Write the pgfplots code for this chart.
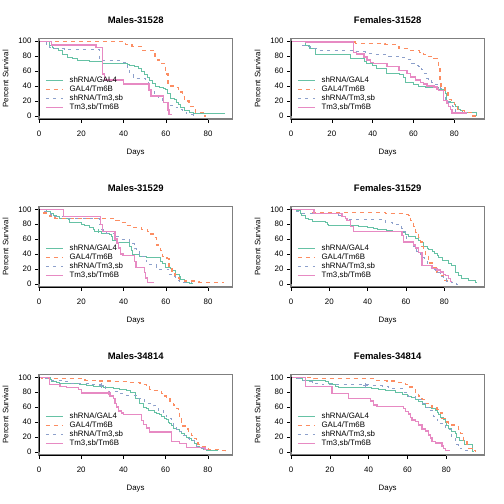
\documentclass[border=0pt]{standalone}
\usepackage{fontspec}
\setmainfont{Liberation Sans}
\usepackage{pgfplots}
\pgfplotsset{compat=1.18}
\definecolor{cG}{HTML}{66C2A5}
\definecolor{cO}{HTML}{FC8D62}
\definecolor{cB}{HTML}{8DA0CB}
\definecolor{cP}{HTML}{E78AC3}
\definecolor{boxgray}{HTML}{7F7F7F}
\pgfplotsset{
 panel/.style={
  scale only axis, width=193.3bp, height=80.7bp, anchor=south west,
  xmin=0, ymin=-4, ymax=104,
  axis line style={draw=boxgray, line width=1.5bp},
  clip=false, const plot,
  xtick={0,20,40,60,80}, ytick={0,20,40,60,80,100},
  xtick pos=left, ytick pos=left,
  tick align=outside, major tick length=4bp,
  tick style={black, line width=0.5bp},
  /pgf/number format/assume math mode=true,
  ticklabel style={font=\fontsize{7.92}{9}\selectfont},
  xticklabel style={yshift=-4.5bp},
  label style={font=\fontsize{7.92}{9}\selectfont},
  xlabel={Days}, ylabel={Percent Survival},
  xlabel style={at={(axis description cs:0.5,-0.42)}, anchor=center},
  ylabel style={at={(axis description cs:-0.173,0.5)}, anchor=center},
  title style={at={(axis description cs:0.5,1)}, anchor=south, yshift=5.4bp, font=\bfseries\fontsize{9.5}{11}\selectfont},
  legend style={draw=none, fill=none, at={(axis description cs:0,1)}, anchor=north west, xshift=6bp, yshift=-38bp, font=\fontsize{7.92}{9}\selectfont, inner sep=0pt, row sep=1.3bp, column sep=6bp, nodes={inner sep=0pt, text height=6bp, text depth=1.7bp}},
  legend cell align=left,
  legend image code/.code={\draw[#1] (0bp,0bp) -- (17bp,0bp);},
 },
}
\newcommand{\axlines}{\draw[black, line width=0.6bp] (axis cs:0,-4) -- (axis cs:80,-4); \draw[black, line width=0.6bp] (axis cs:0,0) -- (axis cs:0,100);}
\newcommand{\leg}{\legend{shRNA/GAL4,GAL4/Tm6B,{shRNA/Tm3,sb},{Tm3,sb/Tm6B}}}
\begin{document}
\begin{tikzpicture}
\path[use as bounding box] (0,0) rectangle (504bp,504bp);

% ---------------- Males-31528
\begin{axis}[panel, at={(39bp,385bp)}, xmax=91.5, title={Males-31528}]
\addplot[draw=cG, line width=0.9bp] coordinates {(0,100)(5,95)(6.5,92)(7,90)(9,88)(11,83)(13.5,79)(16,77)(18,74)(24,73)(30,70)(42,69)(43,67)(45,66)(47,63)(48.5,60)(50,55)(51.5,52)(52.5,48)(53.5,44)(55,40)(57,38)(59,37)(60,35)(61,30)(62,24)(64,22)(65,18)(66,15)(67,11)(69,8)(71,5)(73,3)(88,3)};
\addplot[draw=cO, line width=1.4bp, dash pattern=on 4bp off 4bp] coordinates {(0,100)(41,96)(44,93)(49,88)(55,80)(56,75)(58,70)(60,56)(61,40)(64,38)(66,32)(68,26)(69,20)(71,13)(73,9)(74,5)(78,0)(79,0)};
\addplot[draw=cB, line width=0.9bp, dash pattern=on 3bp off 4.5bp] coordinates {(0,100)(3.5,96)(5,92)(7,90)(12,89)(28.7,74)(40,72)(42,62)(43,55)(44.5,50)(50.5,45)(52,35)(54.5,28)(56.5,25)(58.5,18)(61.5,14)(63.5,12)(65.5,9)(68,5)(70,2)(73,0)};
\addplot[draw=cP, line width=1.4bp] coordinates {(0,100)(6,95)(27,92)(30,56)(31,48)(40,43)(52,35)(53,27)(59,18)(61,8)(61.5,2)(63,2)};
\leg
\axlines
\end{axis}

% ---------------- Females-31528
\begin{axis}[panel, at={(291bp,385bp)}, xmax=94.7, title={Females-31528}]
\addplot[draw=cG, line width=0.9bp] coordinates {(0,100)(7,95)(9,90)(12,83)(29,77)(36,73)(37,70)(40,68)(42,64)(47,57)(53,55)(55,51)(56,45)(60,42)(62.5,40)(66,38)(72,36)(75,35)(75.5,30)(76.4,20)(78,18)(80,16)(80.5,13)(82,9)(83,7)(84,5)(90.5,5)(91,0)};
\addplot[draw=cO, line width=1.4bp, dash pattern=on 4bp off 4bp] coordinates {(0,100)(8,99)(31.5,97)(46,96)(51,93)(53,90)(58,88)(63,85)(65,82)(66.5,80)(70,77)(71.5,73)(72.3,63)(73,45)(73.5,40)(75.5,32)(77,22)(78.5,19)(80,15)(81,12)(81.5,9)(82,7)(85,5)(88.7,0)(90.8,0)};
\addplot[draw=cB, line width=0.9bp, dash pattern=on 3bp off 4.5bp] coordinates {(0,100)(5.4,95)(8.6,93)(9.4,91)(10,90)(13.5,88)(30.7,86)(36.5,84)(40.5,83)(47.8,80)(53,78)(56.8,76)(58.4,73)(59.2,71)(61,68)(62.5,66)(64,62)(65,57)(66.6,50)(67.5,47)(69,45)(70.6,42)(72.3,40)(73,37)(74,33)(74.8,27)(75.6,22)(77.2,18)(78.9,13)(79.7,9)(80.5,5)(86,3)};
\addplot[draw=cP, line width=1.4bp] coordinates {(0,100)(7,99)(30.7,85)(32,83)(35.8,79)(37.2,75)(39,72)(40.5,70)(47,66)(53,61)(56.8,57)(58.4,52)(61,48)(63.3,45)(65,43)(66.6,40)(70,39)(71.5,36)(72.3,34)(74.8,21)(76.4,17)(77.2,13)(78,9)(78.9,4)(86,4)};
\leg
\axlines
\end{axis}

% ---------------- Males-31529
\begin{axis}[panel, at={(39bp,217bp)}, xmax=91.5, title={Males-31529}]
\addplot[draw=cG, line width=0.9bp] coordinates {(0,100)(3.6,97)(5.2,95)(6.7,92)(8.3,90)(9.9,88)(13.8,86)(14.6,82)(20,80)(21.6,78)(24,76)(25.6,73)(26.4,70)(29.5,68)(33.4,66)(34.2,63)(35,58)(37.3,55)(42.8,50)(43.6,45)(44.4,40)(47.5,37)(50.7,35)(57.7,30)(58.5,28)(60,22)(62.4,21)(63.2,18)(64.8,13)(66.3,10)(67.1,6)(68.7,4)(69.5,2)(71,1)(73,1)};
\addplot[draw=cO, line width=1.4bp, dash pattern=on 4bp off 4bp] coordinates {(0,100)(2,95)(4,92)(5.2,90)(7.5,88)(36.5,85)(39,82)(41.3,78)(44,76)(48.5,73)(51.5,70)(53,67)(54,62)(55.5,52)(57.5,45)(58.5,37)(60.5,34)(61.5,20)(63,17)(64.3,8)(66.5,5)(69,4)(74,3)(75.8,2)(87.5,2)};
\addplot[draw=cB, line width=0.9bp, dash pattern=on 3bp off 4.5bp] coordinates {(0,100)(2.8,97)(5.2,93)(6,92)(7.5,90)(13,88)(28.5,80)(29.5,73)(30.3,70)(31.8,68)(35.8,63)(38.9,60)(42.8,57)(44.4,54)(45.2,47)(46,45)(47.5,40)(49,37)(50.7,30)(52.2,26)(55.5,22)(57,20)(61.5,13)(62.5,10)(64.8,5)(66.3,3)(67.5,2)(72,2)};
\addplot[draw=cP, line width=1.4bp] coordinates {(0,100)(11.5,90)(29,80)(30,70)(36,60)(37,55)(37.6,48)(38.5,40)(39.7,38)(45.2,30)(46,22)(49.9,15)(50.5,8)(51.3,2)(54.3,2)};
\addplot[draw=cG, only marks, mark=+, mark size=2.2bp, forget plot] coordinates {(27.9,71)};
\leg
\axlines
\end{axis}

% ---------------- Females-31529
\begin{axis}[panel, at={(291bp,217bp)}, xmax=100.9, title={Females-31529}]
\addplot[draw=cG, line width=0.9bp] coordinates {(0,100)(3,98)(4.9,95)(5.7,92)(7.5,88)(9.2,86)(11,84)(17.9,82)(18.8,80)(19.7,79)(27.5,78)(35,77)(39.7,76)(43,75)(44.9,73)(50,72)(52.7,71)(56,70)(58.8,69)(59.7,66)(61.4,63)(64.9,61)(66.6,58)(67.5,55)(69.2,50)(71,48)(71.8,46)(73.6,44)(75,41)(76.2,38)(77,35)(78.8,31)(82.3,28)(84,25)(85.7,15)(87.5,11)(89.2,8)(92.7,5)(96.2,2)(97,2)};
\addplot[draw=cO, line width=1.4bp, dash pattern=on 4bp off 4bp] coordinates {(0,100)(10,96)(49.2,94)(59.5,93)(61.4,92)(62.3,85)(64,77)(65,69)(66.6,62)(67.5,56)(68.4,50)(69.2,45)(70.1,38)(71.8,28)(73.6,22)(76.2,15)(77.9,11)(79.7,5)(81.4,0)(82,0)};
\addplot[draw=cB, line width=0.9bp, dash pattern=on 3bp off 4.5bp] coordinates {(0,100)(3,97)(5.7,95)(24.9,92)(26.6,90)(28.3,88)(30,87)(48.4,85)(49.2,83)(52.7,80)(56,78)(57.9,75)(58.8,70)(59.7,65)(60.5,60)(61.4,56)(62.3,54)(64,50)(64.9,47)(65.7,44)(67.5,40)(68.3,35)(69.9,32)(71,28)(71.8,25)(73.6,20)(75.3,17)(76.2,15)(77.9,10)(79.7,7)(81.4,4)(84,2)(86.6,0)(87,0)};
\addplot[draw=cP, line width=1.4bp] coordinates {(0,100)(12,94)(26.6,90)(28.3,88)(29.2,85)(31,77)(32.7,70)(57.9,65)(58.8,56)(64,52)(64.9,48)(66.6,42)(68.3,25)(73.6,21)(76.2,19)(77.9,16)(79.7,13)(80.5,11)(82.3,7)(83.1,3)(84,3)};
\leg
\axlines
\end{axis}

% ---------------- Males-34814
\begin{axis}[panel, at={(39bp,49bp)}, xmax=91.6, title={Males-34814}]
\addplot[draw=cG, line width=0.9bp] coordinates {(0,100)(5.2,97)(6,95)(8.3,93)(9.9,92)(19.1,91)(20.2,90)(22.6,89)(25.7,88)(30.5,87)(32,86)(35.2,85)(38.3,84)(41.5,83)(42.3,82)(43.5,80)(45.5,72)(47.8,65)(49.4,60)(50.9,58)(51.7,56)(54.1,55)(54.9,53)(55.7,51)(57.3,50)(58,48)(58.9,47)(59.6,45)(60.4,43)(61.2,40)(62,38)(62.8,35)(63.6,32)(65.2,30)(66.7,27)(67.5,25)(69.1,22)(69.9,20)(71.5,18)(72.3,15)(73.8,12)(74.6,8)(76.2,6)(77.8,3)(79.4,2)(85,2)};
\addplot[draw=cO, line width=1.4bp, dash pattern=on 4bp off 4bp] coordinates {(0,100)(1.3,99)(6,98)(21.8,96)(28.9,95)(35,94)(41.5,93)(47.8,92)(49.4,90)(51,87)(52.5,84)(54.1,82)(58,78)(58.9,75)(60.4,72)(62,68)(63.6,63)(65.2,58)(66,54)(66.7,44)(67.5,40)(68.3,35)(69.9,31)(70.7,28)(72.3,22)(73.8,18)(74.6,15)(75.4,10)(77,7)(78.6,5)(80.2,3)(86.5,2)(88.5,0)(89,0)};
\addplot[draw=cB, line width=0.9bp, dash pattern=on 3bp off 4.5bp] coordinates {(0,100)(2,98)(6,96)(12.3,94)(13.9,92)(23.4,90)(29.7,88)(31.5,85)(32.8,81)(37,78)(41.5,76)(47,72)(48.6,70)(50.2,65)(54.1,62)(55.7,60)(56.5,55)(58.9,50)(60.4,47)(62,45)(62.8,40)(63.6,35)(65.2,30)(66.7,27)(68.3,22)(69.9,18)(71.5,15)(73.8,12)(74.6,8)(76.2,5)(77.8,3)(78.6,3)};
\addplot[draw=cP, line width=1.4bp] coordinates {(0,100)(4.9,90)(9.9,88)(13.1,86)(18.6,84)(20.2,79)(33.6,75)(35.2,72)(36,65)(36.8,60)(37.6,55)(39,52)(39.9,50)(48.6,42)(49.4,37)(51,32)(52.5,27)(62.8,14)(66.7,11)(69.9,6)(78.6,3)(80.2,3)};
\addplot[draw=cB, only marks, mark=+, mark size=2.2bp, forget plot] coordinates {(29.7,89)};
\addplot[draw=cP, only marks, mark=+, mark size=2.2bp, forget plot] coordinates {(33,79)};
\leg
\axlines
\end{axis}

% ---------------- Females-34814
\begin{axis}[panel, at={(291bp,49bp)}, xmax=99.6, title={Females-34814}]
\addplot[draw=cG, line width=0.9bp] coordinates {(0,100)(3,98)(5.7,96)(17.7,94)(19.4,92)(21.1,90)(22.8,88)(24.5,86)(41.7,85)(45,84)(48.6,82)(53.7,80)(57.2,77)(59.8,75)(62.3,73)(64,70)(65.8,67)(67.5,63)(69.2,60)(72.6,58)(74.3,56)(75.2,53)(76,50)(76.9,46)(78.6,44)(79.5,40)(80.3,36)(81.2,32)(82.9,27)(84.6,25)(85.5,20)(87,15)(89.5,10)(93.7,1)(94.3,1)};
\addplot[draw=cO, line width=1.4bp, dash pattern=on 4bp off 4bp] coordinates {(0,100)(11.7,98)(42.6,96)(49.4,95)(55.5,93)(58.9,90)(60.6,87)(62.3,85)(64,80)(65.8,75)(67.5,70)(69.2,65)(70.9,62)(72.6,60)(75.2,57)(76.9,52)(77.8,45)(79.5,40)(81.2,36)(85.5,34)(86.4,30)(87.2,25)(88.9,15)(90.6,8)(91.5,5)(93.2,2)(95,1)(95.5,1)};
\addplot[draw=cB, line width=0.9bp, dash pattern=on 3bp off 4.5bp] coordinates {(0,100)(2.2,98)(5.7,96)(8.2,94)(10.8,92)(16,90)(40.5,89)(46.9,88)(50.3,85)(57.2,80)(60.6,75)(64,70)(67.5,65)(69.2,60)(70.9,55)(73.5,47)(75.2,42)(76.9,38)(79.5,33)(81.2,30)(82.9,20)(84.6,10)(86.4,5)(88,2)(92.4,2)};
\addplot[draw=cP, line width=1.4bp] coordinates {(0,100)(7.4,88)(21.1,78)(29.7,72)(40.9,68)(42.6,63)(44.3,61)(58,58)(58.9,54)(60.6,51)(61.5,46)(62.3,43)(64,41)(65.8,36)(67.5,31)(69.2,28)(70.9,23)(71.8,19)(72.6,14)(74.3,12)(77.8,8)(78.6,5)(79.5,2)(82,2)};
\addplot[draw=cB, only marks, mark=+, mark size=2.2bp, forget plot] coordinates {(38.3,89)};
\leg
\axlines
\end{axis}
\end{tikzpicture}
\end{document}
